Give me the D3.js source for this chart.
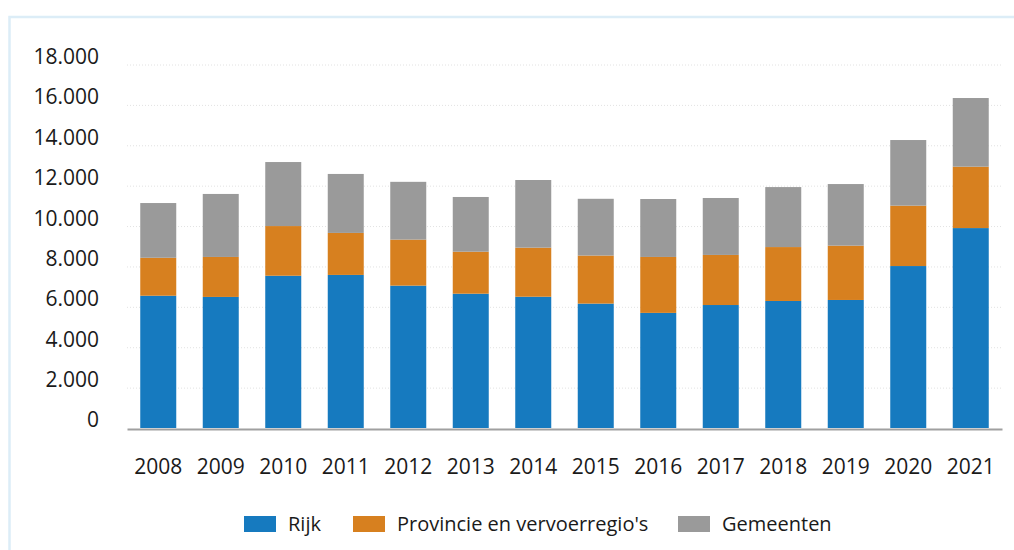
<!DOCTYPE html>
<html>
<head>
<meta charset="utf-8">
<script src="https://cdn.jsdelivr.net/npm/d3@7"></script>
<style>
  body { margin: 0; background: #fff; }
  svg { display: block; font-family: "Open Sans", sans-serif; }
</style>
</head>
<body>
<div id="chart"></div>
<script>
// data
var years = ["2008", "2009", "2010", "2011", "2012", "2013", "2014", "2015", "2016", "2017", "2018", "2019", "2020", "2021"];
var rijk = [6550, 6490, 7540, 7580, 7050, 6650, 6500, 6160, 5700, 6090, 6290, 6340, 8020, 9900];
var provincie = [1880, 1980, 2460, 2080, 2280, 2080, 2430, 2380, 2770, 2480, 2670, 2690, 2990, 3040];
var gemeenten = [2710, 3120, 3170, 2920, 2860, 2710, 3350, 2810, 2870, 2820, 2970, 3050, 3250, 3400];
var seriesNames = ["Rijk", "Provincie en vervoerregio's", "Gemeenten"];
var yTicks = [0, 2000, 4000, 6000, 8000, 10000, 12000, 14000, 16000, 18000];

var colors = ["#167abf", "#d7801f", "#9a9a9a"];

// magic numbers
var W = 1014, H = 550;
var margin = {top: 64.5, bottom: 122, left: 127, right: 12};

var svg = d3.select("#chart").append("svg")
    .attr("width", W)
    .attr("height", H);

// light blue frame
svg.append("rect")
    .attr("x", 9.5)
    .attr("y", 17)
    .attr("width", W)
    .attr("height", H)
    .attr("fill", "none")
    .attr("stroke", "#dcedf7")
    .attr("stroke-width", 2.5);

var table = years.map(function(y, i) {
  return {year: y, "Rijk": rijk[i], "Provincie en vervoerregio's": provincie[i], "Gemeenten": gemeenten[i]};
});

var stacked = d3.stack().keys(seriesNames)(table);

var xScale = d3.scaleBand()
    .domain(years)
    .range([margin.left, W - margin.right])
    .paddingInner(0.424)
    .paddingOuter(0.212);

var yScale = d3.scaleLinear()
    .domain([0, 18000])
    .range([H - margin.bottom, margin.top]);

var nl = d3.formatLocale({decimal: ",", thousands: ".", grouping: [3], currency: ["€", ""]});
var fmt = nl.format(",");

// gridlines
var grid = svg.append("g")
    .attr("transform", "translate(" + margin.left + ",0)")
    .call(d3.axisLeft(yScale).tickValues(yTicks).tickSize(-(xScale.range()[1] - margin.left)).tickFormat(""));
grid.select(".domain").remove();
grid.selectAll(".tick line")
    .attr("stroke", "#e2e2e2")
    .attr("stroke-dasharray", "1,2");
grid.selectAll(".tick").filter(function(d) { return d === 0; }).remove();

// y labels
var yAxis = svg.append("g")
    .attr("transform", "translate(99,0)")
    .call(d3.axisLeft(yScale).tickValues(yTicks).tickSize(0).tickPadding(0).tickFormat(fmt));
yAxis.select(".domain").remove();
yAxis.selectAll("text")
    .attr("dy", "-0.05em")
    .attr("fill", "#1a1a1a")
    .style("font-size", "21px")
    .style("font-family", "'Open Sans', sans-serif");

// bars
svg.append("g").selectAll("g")
    .data(stacked)
    .join("g")
    .attr("fill", function(d, i) { return colors[i]; })
  .selectAll("rect")
    .data(function(d) { return d; })
    .join("rect")
    .attr("x", function(d) { return xScale(d.data.year); })
    .attr("y", function(d) { return yScale(d[1]); })
    .attr("width", xScale.bandwidth())
    .attr("height", function(d) { return yScale(d[0]) - yScale(d[1]); });

// x axis
var xAxis = svg.append("g")
    .attr("transform", "translate(0," + (H - margin.bottom + 1) + ")")
    .call(d3.axisBottom(xScale).tickSize(0).tickSizeOuter(0).tickPadding(30));
xAxis.select(".domain")
    .attr("stroke", "#a0a0a0")
    .attr("stroke-width", 2);
xAxis.selectAll("text")
    .attr("fill", "#1a1a1a")
    .style("font-size", "21px")
    .style("font-family", "'Open Sans', sans-serif");

// legend
var legendX = [244, 353, 678];
var legend = svg.append("g").selectAll("g")
    .data(seriesNames)
    .join("g")
    .attr("transform", function(d, i) { return "translate(" + legendX[i] + ",516)"; });
legend.append("rect")
    .attr("width", 32)
    .attr("height", 16)
    .attr("fill", function(d, i) { return colors[i]; });
legend.append("text")
    .attr("x", 44)
    .attr("y", 8)
    .attr("dy", "0.35em")
    .attr("fill", "#1a1a1a")
    .style("font-size", "20px")
    .text(function(d) { return d; });
</script>
</body>
</html>
